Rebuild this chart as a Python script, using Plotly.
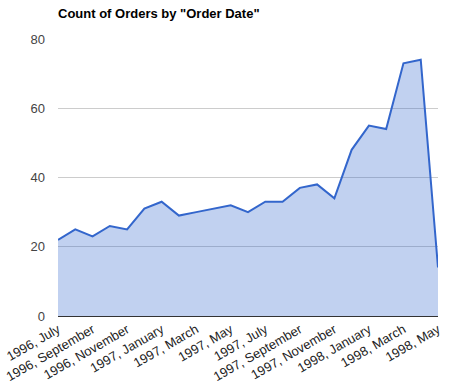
import plotly.graph_objects as go

months = ["1996, July", "1996, August", "1996, September", "1996, October", "1996, November",
          "1996, December", "1997, January", "1997, February", "1997, March", "1997, April",
          "1997, May", "1997, June", "1997, July", "1997, August", "1997, September",
          "1997, October", "1997, November", "1997, December", "1998, January",
          "1998, February", "1998, March", "1998, April", "1998, May"]
orders = [22, 25, 23, 26, 25, 31, 33, 29, 30, 31, 32, 30, 33, 33, 37, 38, 34, 48, 55, 54, 73, 74, 14]
y_ticks = [0, 20, 40, 60, 80]

idx = list(range(len(months)))
fig = go.Figure()
fig.add_trace(go.Scatter(
    x=idx, y=orders, mode="lines", fill="tozeroy",
    line=dict(color="#3366cc", width=2),
    fillcolor="rgba(51,102,204,0.3)",
    hovertext=months, hoverinfo="text+y",
))
fig.update_layout(
    width=450, height=389,
    margin=dict(l=58, r=12, t=39, b=73),
    paper_bgcolor="white", plot_bgcolor="white",
    showlegend=False,
    font=dict(family="Liberation Sans, Arial, sans-serif", size=13, color="#444"),
    title=dict(text='Count of Orders by "Order Date"', x=58/450, xanchor="left",
               y=1-13/389, yanchor="middle",
               font=dict(size=13, color="#000", family="Liberation Sans, Arial, sans-serif", weight="bold")),
)
fig.update_xaxes(
    range=[0, len(months) - 1], automargin=False,
    tickvals=idx[::2], ticktext=months[::2], tickangle=-30,
    showgrid=False, showline=True, linecolor="#333", linewidth=1,
    ticks="", zeroline=False, tickfont=dict(size=13, color="#222"),
)
fig.update_yaxes(
    range=[0, 80], tickvals=y_ticks, showgrid=True, gridcolor="#cccccc",
    zeroline=False, ticks="", ticklabelstandoff=12, automargin=False,
    tickfont=dict(size=13, color="#444"),
)
fig.write_html("out.html", config={"displayModeBar": False},
               post_script="document.body.style.margin='0';document.body.style.overflow='hidden';")
